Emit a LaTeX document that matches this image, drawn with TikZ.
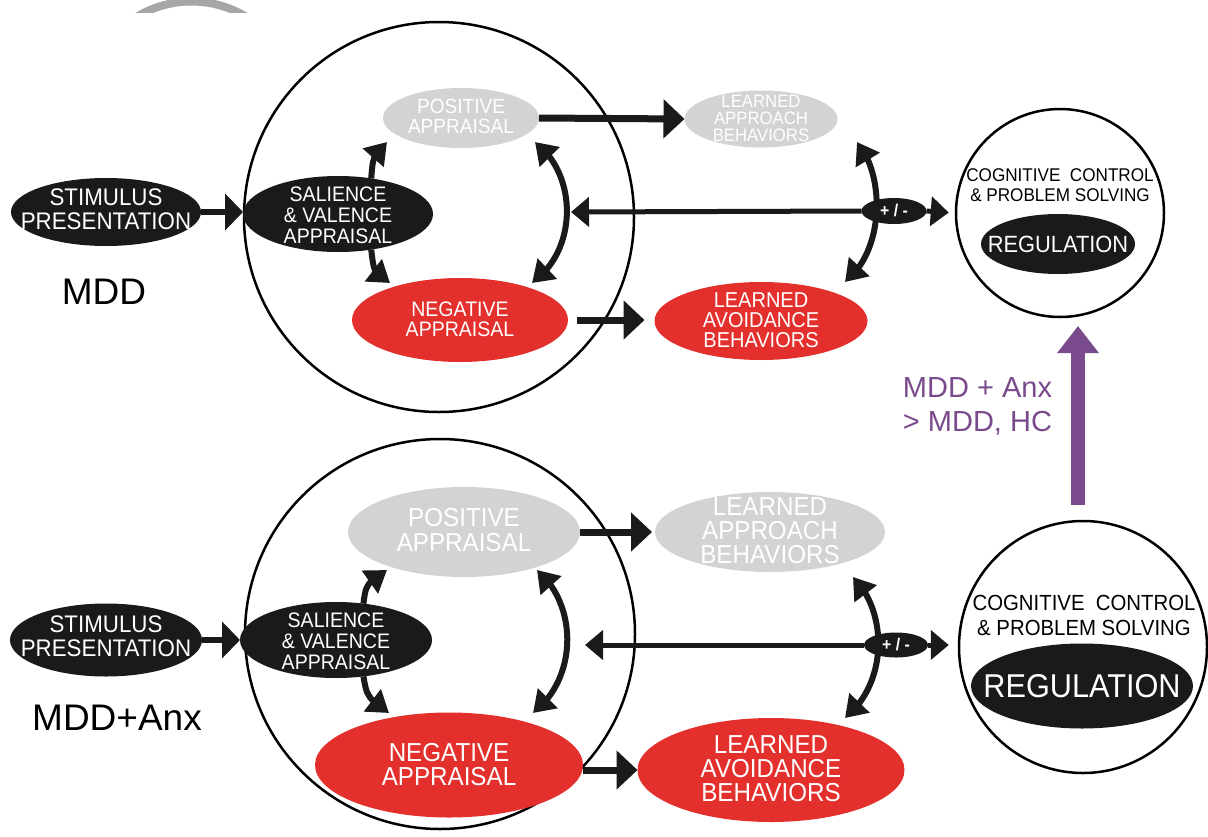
\documentclass[tikz,border=0pt]{standalone}
\usepackage{fontspec}
\setmainfont{Liberation Sans}
\newfontfamily\cond[FakeStretch=0.93]{Liberation Sans}
\usetikzlibrary{arrows.meta,bending,shapes.geometric}
\definecolor{cBlk}{HTML}{1A1A1A}
\definecolor{cGry}{HTML}{D3D3D3}
\definecolor{cRed}{HTML}{E3302C}
\definecolor{cPur}{HTML}{7A4B8C}
\definecolor{cRing}{HTML}{A6A6A6}
\newcommand\myfs[2]{\fontsize{#1}{#2}\selectfont}
\tikzset{
  ell/.style={ellipse, inner sep=0pt, outer sep=0pt},
  blkE/.style={ell, fill=cBlk},
  gryE/.style={ell, fill=cGry},
  redE/.style={ell, fill=cRed},
  wt/.style={inner sep=0pt, align=center, text=white},
  bt/.style={inner sep=0pt, align=center, text=black},
  bigc/.style={circle, draw=black, line width=2.5pt, inner sep=0pt},
  cogE/.style={ellipse, draw=black, line width=2.5pt, inner sep=0pt},
  arA/.style={draw=cBlk, line width=6pt, -{Triangle[length=18pt,width=36pt]}},
  arB/.style={draw=cBlk, line width=7pt, -{Triangle[length=21pt,width=38pt]}},
  arC/.style={draw=cBlk, line width=5pt, -{Triangle[length=18pt,width=29pt]}},
  arD/.style={draw=cBlk, line width=6pt, -{Triangle[length=21pt,width=27pt]}},
  arE/.style={draw=cBlk, line width=6pt, {Triangle[length=21pt,width=27pt]}-{Triangle[length=21pt,width=27pt]}},
  lbl/.style={inner sep=0pt, text=black, font=\myfs{37}{37}},
}
\begin{document}
\begin{tikzpicture}[x=1pt,y=-1pt]
\useasboundingbox (0,0) rectangle (1208,836);
\fill[white] (0,0) rectangle (1208,836);
% partial grey ring at top
\begin{scope}
  \clip (0,0) rectangle (1208,12);
  \draw[cRing, line width=8pt] (191.5,107) circle[radius=105.5];
\end{scope}

% ================= TOP PANEL =================
\node[bigc, minimum size=390pt] (bigT) at (439,217) {};
\node[bigc, minimum size=208pt] (cogT) at (1060,213) {};

\node[blkE, minimum width=190pt, minimum height=68pt] (stimT) at (106,212) {};
\node[blkE, minimum width=190pt, minimum height=76pt] (salT) at (338,214) {};
\node[gryE, minimum width=156pt, minimum height=60pt] (posT) at (461,118) {};
\node[gryE, minimum width=153pt, minimum height=57pt] (apprT) at (761,119) {};
\node[redE, minimum width=216pt, minimum height=84pt] (negT) at (460,320) {};
\node[redE, minimum width=213pt, minimum height=78pt] (avoT) at (761,321) {};

% arrows
\draw[arA] (stimT.east) -- (stimT.east -| salT.west);
\draw[arB] (posT.east) -- (apprT.west);
\draw[arB, shorten <=9pt, shorten >=10pt] (negT.east) -- (negT.east -| avoT.west);

\coordinate (tsu) at (387,142);
\coordinate (tsd) at (390,283);
\draw[arD] (salT.47) .. controls (373,156) .. (tsu);
\draw[arD] (salT.-47) .. controls (374,273) .. (tsd);

\coordinate (tia) at (535,142);
\coordinate (tib) at (532,283);
\draw[arE] (tia) .. controls (578,175) and (578,250) .. (tib);

\coordinate (tra) at (857,142);
\coordinate (trb) at (845,282);
\draw[arE] (tra) .. controls (885,175) and (885,250) .. (trb);

\node[blkE, minimum width=65pt, minimum height=26pt] (pmT) at (894,211) {};
\coordinate (fbT) at (571,212);
\draw[arC] (pmT.west) -- (fbT);
\draw[arC, shorten >=6pt] (pmT.east) -- (cogT.west);
\node[wt, font=\cond\bfseries\myfs{17}{17}] (pmTt) at (pmT) {+ / -};

% texts
\node[wt, font=\cond\myfs{24}{24}] (stimTt) at (106,209) {STIMULUS\\PRESENTATION};
\node[wt, font=\cond\myfs{21}{21}] (salTt) at (338,215) {SALIENCE\\\& VALENCE\\APPRAISAL};
\node[wt, font=\cond\myfs{20.5}{20}] (posTt) at (461,116.5) {POSITIVE\\APPRAISAL};
\node[wt, font=\cond\myfs{18}{17}] (apprTt) at (761,118.5) {LEARNED\\APPROACH\\BEHAVIORS};
\node[wt, font=\cond\myfs{21}{20}] (negTt) at (460,319.5) {NEGATIVE\\APPRAISAL};
\node[wt, font=\cond\myfs{21.5}{20}] (avoTt) at (761,320.5) {LEARNED\\AVOIDANCE\\BEHAVIORS};

\node[bt, font=\cond\myfs{18.4}{20}] (cogTt) at (1060,185) {COGNITIVE\ \ CONTROL\\\& PROBLEM SOLVING};
\node[blkE, minimum width=154pt, minimum height=60pt] (regT) at (1058,244) {};
\node[wt, font=\cond\myfs{23.5}{23.5}] (regTt) at (regT) {REGULATION};

\node[lbl] (mdd) at (104,292) {MDD};

% ================= PURPLE ARROW =================
\coordinate (pS) at (1078,505);
\coordinate (pE) at (1078,326);
\draw[cPur, line width=14pt, -{Triangle[length=27pt,width=40pt]}] (pS) -- (pE);
\node[inner sep=0pt, align=left, text=cPur, font=\myfs{29}{34}] (ptxt) at (977.5,406) {MDD + Anx\\> MDD, HC};

% ================= BOTTOM PANEL =================
\node[bigc, minimum size=390pt] (bigB) at (440,634) {};
\node[cogE, minimum width=248pt, minimum height=252pt] (cogB) at (1083,647) {};

\node[blkE, minimum width=192pt, minimum height=73pt] (stimB) at (106,640) {};
\node[blkE, minimum width=192pt, minimum height=76pt] (salB) at (336,640) {};
\node[gryE, minimum width=232pt, minimum height=90pt] (posB) at (464,532) {};
\node[gryE, minimum width=230pt, minimum height=80pt] (apprB) at (770,532) {};
\node[redE, minimum width=268pt, minimum height=105pt] (negB) at (449,765) {};
\node[redE, minimum width=267pt, minimum height=104pt] (avoB) at (771,770) {};

\draw[arA] (stimB.east) -- (salB.west);
\draw[arB, shorten >=3pt] (posB.east) -- (posB.east -| apprB.west);
\draw[arB] (negB.east |- avoB.west) -- (avoB.west);

\coordinate (bsu) at (387,570);
\coordinate (bsd) at (389,713);
\draw[arD] (salB.53) .. controls (366,584) .. (bsu);
\draw[arD] (salB.-53) .. controls (367,697) .. (bsd);

\coordinate (bia) at (537,570);
\coordinate (bib) at (533,713);
\draw[arE] (bia) .. controls (578,605) and (578,678) .. (bib);

\coordinate (bra) at (853,577);
\coordinate (brb) at (845,718);
\draw[arE] (bra) .. controls (888,612) and (888,683) .. (brb);

\node[blkE, minimum width=64pt, minimum height=25pt] (pmB) at (896,645) {};
\coordinate (fbB) at (585,645);
\draw[arC] (pmB.west) -- (fbB);
\draw[arC, shorten >=9pt] (pmB.east) -- (pmB.east -| cogB.west);
\node[wt, font=\cond\bfseries\myfs{17}{17}] (pmBt) at (pmB) {+ / -};

\node[wt, font=\cond\myfs{24}{24}] (stimBt) at (106,636) {STIMULUS\\PRESENTATION};
\node[wt, font=\cond\myfs{21}{21}] (salBt) at (336,641) {SALIENCE\\\& VALENCE\\APPRAISAL};
\node[wt, font=\cond\myfs{26}{24.5}] (posBt) at (464,530) {POSITIVE\\APPRAISAL};
\node[wt, font=\cond\myfs{26}{24}] (apprBt) at (770,530.5) {LEARNED\\APPROACH\\BEHAVIORS};
\node[wt, font=\cond\myfs{26}{24}] (negBt) at (449,765) {NEGATIVE\\APPRAISAL};
\node[wt, font=\cond\myfs{26}{24}] (avoBt) at (771,769) {LEARNED\\AVOIDANCE\\BEHAVIORS};

\node[bt, font=\cond\myfs{21.9}{25}] (cogBt) at (1084,615.5) {COGNITIVE\ \ CONTROL\\\& PROBLEM SOLVING};
\node[blkE, minimum width=222pt, minimum height=85pt] (regB) at (1082,686) {};
\node[wt, font=\cond\myfs{33}{33}] (regBt) at (regB) {REGULATION};

\node[lbl] (mddanx) at (117,718) {MDD+Anx};
\end{tikzpicture}
\end{document}
